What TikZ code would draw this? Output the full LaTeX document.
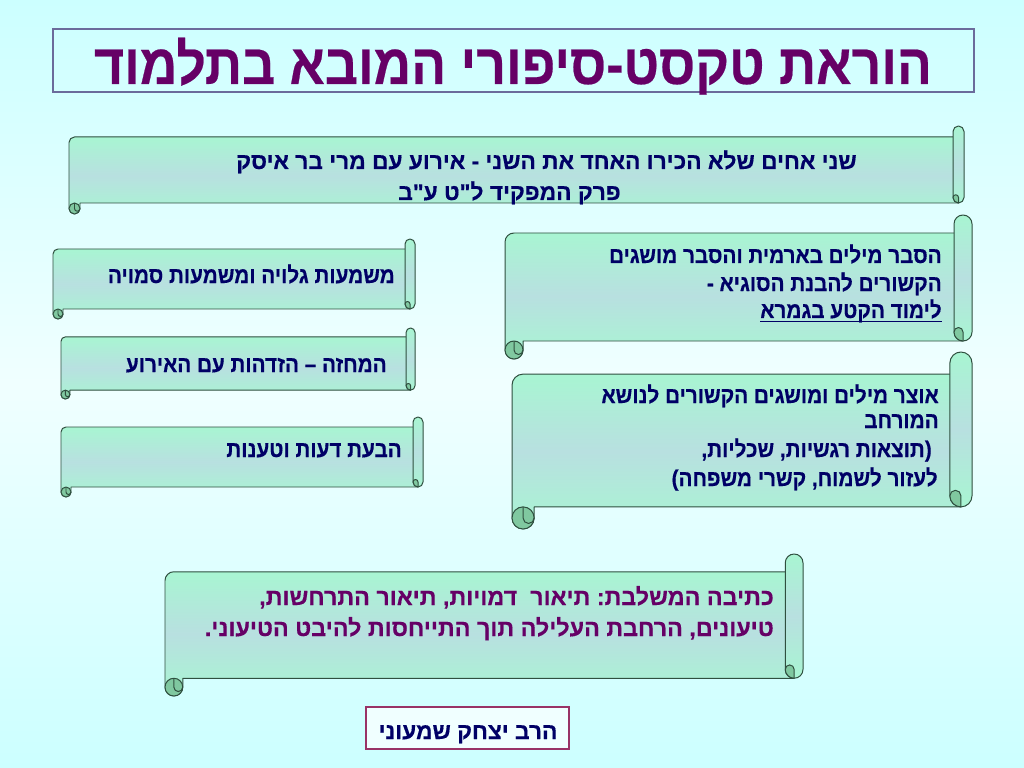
\documentclass[tikz,border=0pt]{standalone}
\usepackage{fontspec}
\setmainfont[Script=Hebrew, Ligatures=TeXOff, BoldFeatures={FakeBold=0.4}]{Liberation Sans}
\newfontfamily\hebnarrow[Script=Hebrew, Ligatures=TeXOff, FakeStretch=0.91, BoldFeatures={FakeBold=0.4}]{Liberation Sans}
\TeXXeTstate=1
\usetikzlibrary{math}

\definecolor{bgcyan}{HTML}{CCFFFF}
\definecolor{bglight}{HTML}{F0FFFF}
\definecolor{mint}{HTML}{A8F5D2}
\definecolor{mistblue}{HTML}{B8E0E0}
\definecolor{curlgreen}{HTML}{80C8A0}
\definecolor{scrolledge}{HTML}{2F4F3F}
\definecolor{navytext}{HTML}{000066}
\definecolor{plumtext}{HTML}{660066}
\definecolor{titleedge}{HTML}{6B6B9B}
\definecolor{authoredge}{HTML}{993366}

\tikzset{
  scrollline/.style={draw=scrolledge, line width=0.7pt, line join=round},
  scrollfill/.style={top color=mint, bottom color=mint, middle color=mistblue},
  curlfill/.style={fill=curlgreen},
  txt/.style={inner sep=0pt, anchor=base east, text=navytext, font=\bfseries\fontsize{16}{19}\selectfont},
  narrowtxt/.style={txt, font=\hebnarrow\bfseries\fontsize{16}{19}\selectfont},
}

\newcommand\pnc[1]{\hbox{#1}}

% horizontal scroll: left, top, right, bottom (pixels)
\newcommand\drawscroll[4]{%
\tikzmath{
\xl = #1;
\yt = #2;
\xr = #3;
\yb = #4;
\ch = 0.125*(\yb - \yt);
\chh = \ch/2;
\chq = \ch/4;
}
\draw[scrollline, scrollfill] (\xl, \yb - \chh) -- (\xl, \yt + \ch + \chh) arc[start angle=180, end angle=270, radius=\chh] -- (\xr - \chh, \yt + \ch) -- (\xr - \chh, \yb - \ch) -- (\xl + \ch, \yb - \ch) -- (\xl + \ch, \yb - \chh) arc[start angle=0, end angle=180, radius=\chh] -- cycle;
\draw[scrollline, curlfill] (\xl + \chh, \yb - \chh) circle[radius=\chh];
\draw[scrollline] (\xl + \chh, \yb - \ch) -- (\xl + \chh, \yb - \chh) arc[start angle=180, end angle=0, radius=\chq];
\draw[scrollline, scrollfill] (\xr - \ch, \yt + \chh) arc[start angle=180, end angle=360, radius=\chh] -- (\xr, \yb - \ch - \chh) arc[start angle=0, end angle=180, radius=\chh] -- cycle;
\draw[scrollline, curlfill] (\xr - \chh, \yb - \ch) arc[start angle=90, end angle=180, radius=\chh] arc[start angle=180, end angle=360, radius=\chq] -- cycle;
}

\begin{document}
\begin{tikzpicture}[x=0.703125pt, y=-0.703125pt]
\useasboundingbox (0,0) rectangle (1024,768);
\shade[top color=bgcyan, bottom color=bgcyan, middle color=bglight] (0,0) rectangle (1024,768);

%title
\draw[titleedge, line width=1pt] (53,29) rectangle (974,92);
\node[txt, anchor=base, text=plumtext, font=\hebnarrow\bfseries\fontsize{40}{48}\selectfont] (title) at (513,84) {\beginR הוראת טקסט-סיפורי המובא בתלמוד\endR};

%scrolls
\drawscroll{69}{126}{964}{214}
\drawscroll{505}{215}{972}{359}
\drawscroll{512}{352}{972}{529}
\drawscroll{53}{239}{415}{319}
\drawscroll{61}{328}{415}{399}
\drawscroll{61}{417}{423}{497}
\drawscroll{165}{554}{803}{696}

%story
\node[txt] (storyA) at (857,169) {\beginR שני אחים שלא הכירו האחד את השני - אירוע עם מרי בר איסק\endR};
\node[txt] (storyB) at (621,200) {\beginR פרק המפקיד ל"ט ע"ב\endR};

%words
\node[narrowtxt] (wordsA) at (942,263) {\beginR הסבר מילים בארמית והסבר מושגים\endR};
\node[narrowtxt] (wordsB) at (942,291) {\beginR הקשורים להבנת הסוגיא -\endR};
\node[narrowtxt] (wordsC) at (942,318) {\beginR לימוד הקטע בגמרא\endR};
\draw[navytext, line width=1pt] ([yshift=-2.6pt]wordsC.base west) -- ([yshift=-2.6pt]wordsC.base east);

%vocabulary
\node[narrowtxt] (vocabA) at (939,403) {\beginR אוצר מילים ומושגים הקשורים לנושא\endR};
\node[narrowtxt] (vocabB) at (939,428) {\beginR המורחב\endR};
\node[narrowtxt] (vocabC) at (932,457) {\beginR\pnc{(}תוצאות רגשיות\pnc{,} שכליות\pnc{,}\endR};
\node[narrowtxt] (vocabD) at (938,486) {\beginR לעזור לשמוח\pnc{,} קשרי משפחה\pnc{)}\endR};

%meanings
\node[narrowtxt] (meaning) at (395,283) {\beginR משמעות גלויה ומשמעות סמויה\endR};
\node[narrowtxt] (drama) at (387,372) {\beginR המחזה – הזדהות עם האירוע\endR};
\node[narrowtxt] (opinion) at (402,457) {\beginR הבעת דעות וטענות\endR};

%writing
\node[txt, text=plumtext, font=\bfseries\fontsize{16.4}{19}\selectfont] (writeA) at (774,605) {\beginR כתיבה המשלבת\pnc{:} תיאור\ \ דמויות\pnc{,} תיאור התרחשות\pnc{,}\endR};
\node[txt, text=plumtext, font=\bfseries\fontsize{16.4}{19}\selectfont] (writeB) at (774,636) {\beginR טיעונים\pnc{,} הרחבת העלילה תוך התייחסות להיבט הטיעוני\pnc{.}\endR};

%author
\draw[authoredge, fill=bglight, line width=0.8pt] (366,707) rectangle (569,749);
\node[txt, anchor=base] (author) at (468,739) {\beginR הרב יצחק שמעוני\endR};

\end{tikzpicture}
\end{document}
